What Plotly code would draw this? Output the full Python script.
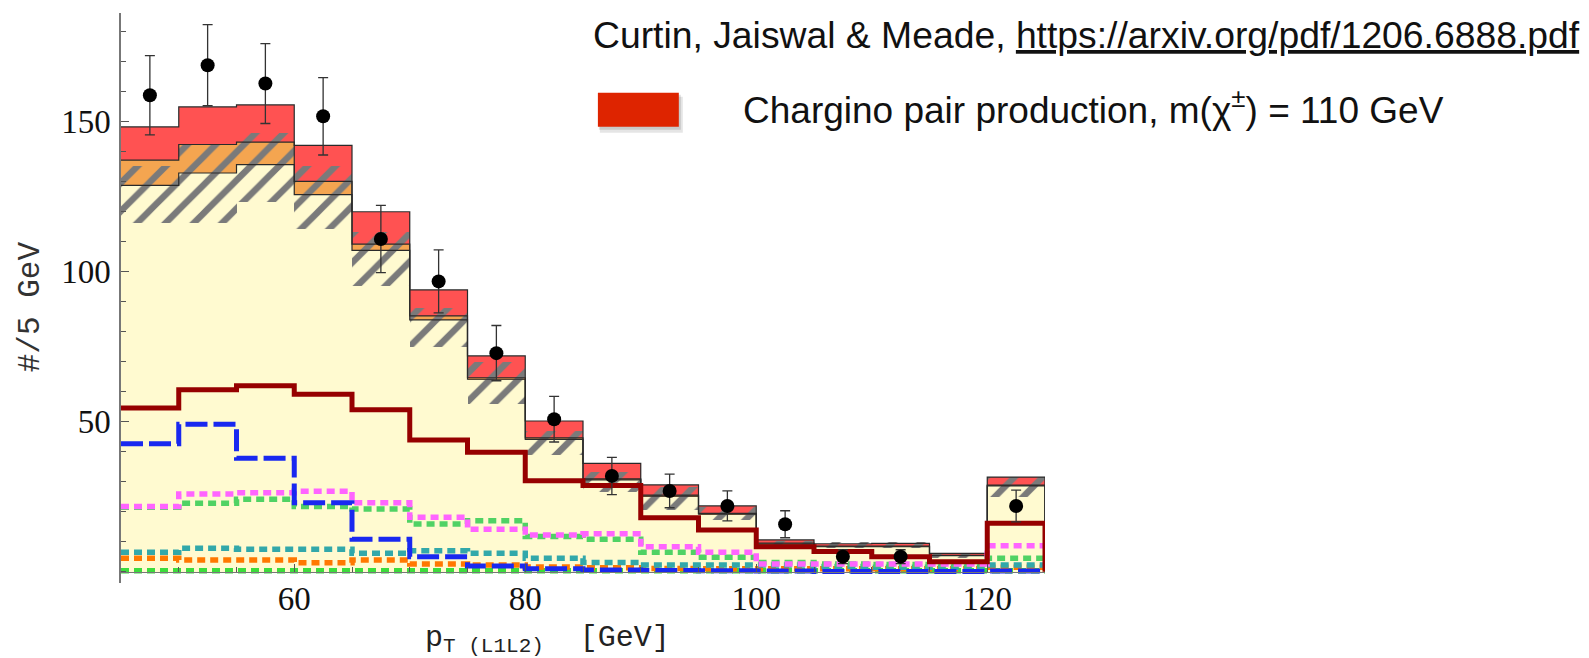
import plotly.graph_objects as go

# ---------------- data ----------------
bin_edges = [45, 50, 55, 60, 65, 70, 75, 80, 85, 90, 95, 100, 105, 110, 115, 120, 125]
bin_centers = [47.5, 52.5, 57.5, 62.5, 67.5, 72.5, 77.5, 82.5, 87.5, 92.5, 97.5,
               102.5, 107.5, 112.5, 117.5, 122.5]

yellow_top = [128.7, 132.8, 135.6, 125.6, 107.0, 83.9, 64.1, 44.1, 30.6, 25.2, 19.2, 9.2, 8.3, 8.3, 5.3, 28.6]
orange_top = [137.1, 142.3, 143.1, 130.0, 109.1, 85.2, 64.6, 44.6, 30.9, 25.5, 19.4, 9.5, 8.5, 8.5, 5.4, 28.8]
red_top    = [148.2, 154.8, 155.5, 142.0, 119.9, 93.9, 71.9, 50.2, 36.1, 28.9, 21.9, 10.6, 9.3, 9.4, 6.1, 31.5]

hatch_lo = [116, 116, 123, 114, 95, 75, 56, 39, 26.7, 20.6, 17.2, 8.9, 8.0, 8.0, 4.5, 25.0]
hatch_hi = [135, 142, 146, 135, 113, 88, 70, 47, 33.3, 28.3, 21.7, 10.3, 10.0, 10.0, 6.0, 31.7]

data_vals = [158.7, 168.7, 162.6, 151.7, 110.8, 96.7, 72.8, 50.8, 31.9, 26.9, 21.9, 15.8, 5.0, 5.0, None, 21.9]
data_err  = [13.2, 13.5, 13.3, 12.9, 11.2, 10.5, 9.2, 7.6, 6.2, 5.6, 5.0, 4.5, 2.3, 2.3, 0.0, 5.3]

signal_line  = [54.5, 60.6, 61.9, 59.1, 53.9, 43.9, 39.8, 30.3, 28.7, 18.0, 13.9, 8.3, 6.7, 5.0, 3.3, 16.1]
blue_line    = [42.6, 49.1, 37.8, 23.0, 10.8, 5.0, 1.9, 1.0, 0.6, 0.4, 0.3, 0.2, 0.1, 0.1, 0.1, 0.2]
magenta_line = [21.7, 25.9, 26.3, 26.8, 23.0, 18.1, 14.1, 12.2, 12.6, 8.3, 6.5, 2.6, 2.6, 2.6, 2.6, 8.6]
green_line   = [21.5, 22.8, 24.1, 21.7, 20.9, 15.9, 17.0, 11.7, 10.8, 6.5, 4.8, 3.1, 2.6, 2.4, 2.4, 4.5]
teal_line    = [6.5, 7.8, 7.5, 7.5, 6.1, 7.0, 6.1, 4.5, 3.1, 2.2, 2.2, 2.2, 1.7, 1.5, 1.5, 2.2]
orange_line  = [4.5, 3.9, 3.9, 3.0, 3.9, 2.6, 2.2, 1.6, 1.3, 1.1, 1.0, 1.0, 1.0, 1.0, 1.0, 1.5]
zero_line    = [0.3, 0.3, 0.3, 0.3, 0.3, 0.3, 0.3, 0.3, 0.3, 0.3, 0.3, 0.3, 0.3, 0.3, 0.3, 0.3]

x_tick_vals = [60, 80, 100, 120]
y_tick_vals = [50, 100, 150]

title_text = "Curtin, Jaiswal &amp; Meade, <u>https://arxiv.org/pdf/1206.6888.pdf</u>"
legend_text = "Chargino pair production, m(χ<sup>±</sup>) = 110 GeV"
x_title = "p<sub>T (L1L2)</sub>  [GeV]"
y_title = "#/5 GeV"

# ---------------- layout geometry (screen pixels; page body adds an 8px offset) ----------------
W, H = 1589, 658
OFF = 8
PL, PR, PT, PB = 120.7, 1045.5, 13.3, 583.0   # plot area on screen
ML = PL - OFF
MT = PT - OFF
MR = W - (PR - OFF)
MB = H - (PB - OFF)
PW, PH = PR - PL, PB - PT
X_RANGE = [45, 125]
Y_RANGE = [-3.77, 186.1]


def px(xs):
    return (xs - PL) / PW


def py(ys):
    return (PB - ys) / PH


fig = go.Figure()

no_line = dict(width=0)
width5 = [5] * len(bin_centers)

# stacked fills (outlines drawn as steps below)
fig.add_trace(go.Bar(x=bin_centers, y=yellow_top, base=[0] * 16, width=width5,
                     marker=dict(color="rgb(255,250,208)", line=no_line), showlegend=False))
fig.add_trace(go.Bar(x=bin_centers, y=[o - y for o, y in zip(orange_top, yellow_top)],
                     base=yellow_top, width=width5,
                     marker=dict(color="rgb(244,165,80)", line=no_line), showlegend=False))
fig.add_trace(go.Bar(x=bin_centers, y=[r - o for r, o in zip(red_top, orange_top)],
                     base=orange_top, width=width5,
                     marker=dict(color="rgb(255,82,82)", line=no_line), showlegend=False))


def step(vals):
    return list(bin_edges), list(vals) + [vals[-1]]


for vals in (yellow_top, orange_top, red_top):
    xs, ys = step(vals)
    fig.add_trace(go.Scatter(x=xs + [bin_edges[-1]], y=ys + [0], mode="lines",
                             line=dict(color="#2a2a2a", width=1.2, shape="hv"), showlegend=False))

# hatched uncertainty band
fig.add_trace(go.Bar(x=bin_centers, y=[h - l for h, l in zip(hatch_hi, hatch_lo)],
                     base=hatch_lo, width=width5,
                     marker=dict(color="rgba(0,0,0,0)", line=no_line,
                                 pattern=dict(shape="/", fgcolor="#7a7a7a", bgcolor="rgba(0,0,0,0)",
                                              fgopacity=1, size=20, solidity=0.32, fillmode="overlay")),
                     showlegend=False))

lines = [
    (zero_line, "rgb(60,220,60)", "8px,5px", 5.5),
    (orange_line, "rgb(255,120,0)", "8px,5px", 5.5),
    (teal_line, "rgb(50,168,170)", "8px,5px", 5.5),
    (green_line, "rgb(80,210,100)", "8px,5px", 5.5),
    (magenta_line, "rgb(255,100,255)", "8px,5px", 5.5),
    (blue_line, "rgb(25,40,240)", "22px,6px", 5),
]
for vals, col, dash, w in lines:
    xs, ys = step(vals)
    fig.add_trace(go.Scatter(x=xs, y=ys, mode="lines", line=dict(color=col, width=w, dash=dash, shape="hv"),
                             showlegend=False))

xs, ys = step(signal_line)
fig.add_trace(go.Scatter(x=xs + [bin_edges[-1]], y=ys + [0], mode="lines",
                         line=dict(color="rgb(150,0,0)", width=5, shape="hv"), showlegend=False))

# data points
fig.add_trace(go.Scatter(x=bin_centers, y=data_vals, mode="markers",
                         marker=dict(color="black", size=14),
                         error_y=dict(type="data", array=data_err, color="#333", thickness=1.3, width=5),
                         showlegend=False))

font_serif = dict(family="Liberation Serif, Times New Roman, serif", size=33, color="#111")

fig.update_layout(
    width=W, height=H,
    margin=dict(l=ML, r=MR, t=MT, b=MB, pad=0),
    paper_bgcolor="white", plot_bgcolor="white",
    barmode="overlay", bargap=0,
    xaxis=dict(range=X_RANGE, showgrid=False, zeroline=False,
               tickmode="array", tickvals=x_tick_vals, ticks="inside", ticklen=8,
               tickcolor="#555", showline=True, linecolor="#777", linewidth=1,
               anchor="free", position=(0 - Y_RANGE[0]) / (Y_RANGE[1] - Y_RANGE[0]),
               ticklabelstandoff=-2, tickfont=font_serif,
               minor=dict(dtick=5, tick0=45, ticks="inside", ticklen=5, tickcolor="#555")),
    yaxis=dict(range=Y_RANGE, showgrid=False, zeroline=False,
               tickmode="array", tickvals=y_tick_vals, ticks="inside", ticklen=8,
               tickcolor="#555", showline=True, linecolor="#777", linewidth=1.5,
               ticklabelstandoff=2, tickfont=font_serif,
               minor=dict(dtick=10, tick0=0, ticks="inside", ticklen=5, tickcolor="#555")),
)

mono = "Liberation Mono, Courier New, monospace"
sans = "Liberation Sans, Arial, Helvetica, sans-serif"

annotations = [
    dict(text=y_title, x=px(30), y=py(307), xref="paper", yref="paper", showarrow=False,
         textangle=-90, xanchor="center", yanchor="middle",
         font=dict(family=mono, size=31, color="#333")),
    dict(text=x_title, x=px(548), y=py(639), xref="paper", yref="paper", showarrow=False,
         xanchor="center", yanchor="middle", font=dict(family=mono, size=30, color="#222")),
    dict(text=title_text, x=px(591), y=py(35), xref="paper", yref="paper", showarrow=False,
         xanchor="left", yanchor="middle", font=dict(family=sans, size=37.3, color="#111")),
    dict(text=legend_text, x=px(741), y=py(108), xref="paper", yref="paper", showarrow=False,
         xanchor="left", yanchor="middle", font=dict(family=sans, size=37, color="#111")),
]
fig.update_layout(annotations=annotations)

shapes = [
    dict(type="rect", xref="paper", yref="paper", x0=px(600), x1=px(683), y0=py(133), y1=py(97),
         fillcolor="rgba(0,0,0,0.10)", line=dict(width=0), layer="above"),
    dict(type="rect", xref="paper", yref="paper", x0=px(599), x1=px(681), y0=py(130), y1=py(95),
         fillcolor="rgba(0,0,0,0.12)", line=dict(width=0), layer="above"),
    dict(type="rect", xref="paper", yref="paper", x0=px(598), x1=px(679), y0=py(127), y1=py(93),
         fillcolor="rgb(222,36,0)", line=dict(width=0), layer="above"),
]
fig.update_layout(shapes=shapes)

fig.write_html("out.html")
